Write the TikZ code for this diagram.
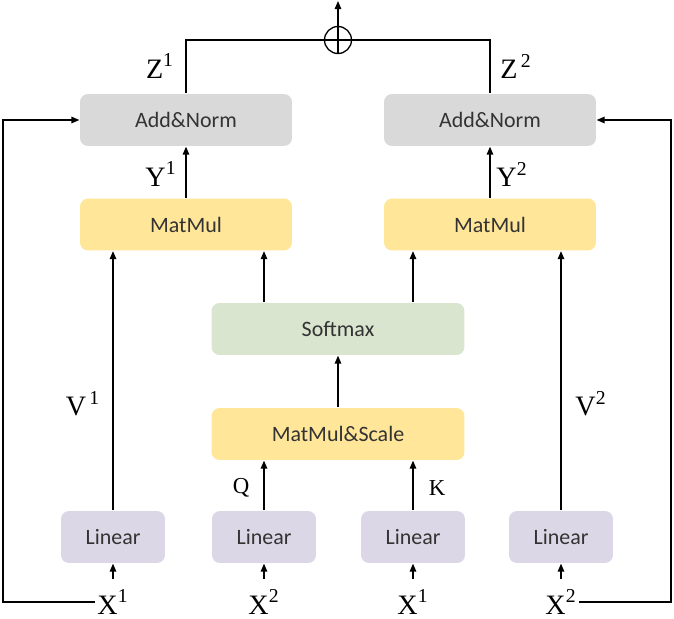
\documentclass[tikz,border=0pt]{standalone}
\usepackage{fontspec}
\setmainfont{Liberation Serif}
\newfontfamily\boxfont{Carlito}
\usetikzlibrary{arrows.meta}
\definecolor{normgray}{HTML}{D9D9D9}
\definecolor{mulyellow}{HTML}{FFE699}
\definecolor{softgreen}{HTML}{D9E5CE}
\definecolor{linpurple}{HTML}{DCD7E6}
\tikzset{
    blk/.style={rounded corners=0.16cm, inner sep=0pt, minimum height=1.04cm,
        font=\boxfont\fontsize{12.5}{14}\selectfont, text=black!80},
    wide/.style={blk, minimum width=4.24cm},
    mid/.style={blk, minimum width=5.06cm},
    small/.style={blk, minimum width=2.08cm},
    sym/.style={inner sep=1pt, font=\fontsize{16}{19}\selectfont},
    qk/.style={inner sep=1pt, font=\fontsize{13}{15}\selectfont},
    arr/.style={-{Triangle[length=1.6mm,width=1.3mm]}},
}
\begin{document}
\begin{tikzpicture}[x=0.02cm, y=-0.02cm, line width=0.75pt]
                \useasboundingbox (0,0) rectangle (674,619);
                \node[wide, fill=normgray] (anl) at (186,120) {Add\&Norm};
                \node[wide, fill=normgray] (anr) at (490,120) {Add\&Norm};
                \node[wide, fill=mulyellow] (mml) at (186,224.5) {MatMul};
                \node[wide, fill=mulyellow] (mmr) at (490,224.5) {MatMul};
                \node[mid, fill=softgreen] (soft) at (338,329) {Softmax};
                \node[mid, fill=mulyellow] (mms) at (338,434) {MatMul\&Scale};
                \node[small, fill=linpurple] (lin1) at (113,537) {Linear};
                \node[small, fill=linpurple] (lin2) at (264,537) {Linear};
                \node[small, fill=linpurple] (lin3) at (413,537) {Linear};
                \node[small, fill=linpurple] (lin4) at (561,537) {Linear};
                \node[sym, anchor=base] (x1) at (113,614) {X\textsuperscript{1}};
                \node[sym, anchor=base] (x2) at (264,614) {X\textsuperscript{2}};
                \node[sym, anchor=base] (x3) at (413,614) {X\textsuperscript{1}};
                \node[sym, anchor=base] (x4) at (561,614) {X\textsuperscript{2}};
                \node[circle, draw, minimum size=0.54cm, inner sep=0pt] (sum) at (338,40) {};
                \coordinate (out) at (338,1);
                \coordinate (lc) at (3,120);
                \coordinate (rc) at (671,120);
                \draw (sum.north) -- (sum.south);
                \draw (anl.north) |- (sum.west) -- (sum.east) -| (anr.north);
                \draw[arr] (sum.north) -- (out);
                \draw[arr] (mml.north) -- (anl.south);
                \draw[arr] (mmr.north) -- (anr.south);
                \draw[arr] (soft.north -| lin2) -- (mml.south -| lin2);
                \draw[arr] (soft.north -| lin3) -- (mmr.south -| lin3);
                \draw[arr] (mms.north) -- (soft.south);
                \draw[arr] (lin1.north) -- (mml.south -| lin1);
                \draw[arr] (lin4.north) -- (mmr.south -| lin4);
                \draw[arr] (lin2.north) -- (mms.south -| lin2);
                \draw[arr] (lin3.north) -- (mms.south -| lin3);
                \foreach \i in {1,2,3,4}
                    \draw[arr, shorten <=5pt] (x\i.north) -- (lin\i.south);
                \draw[arr] (x1.west) -| (lc) -- (anl.west);
                \draw[arr] (x4.east) -| (rc) -- (anr.east);
                \node[sym] (z1) at (160,66) {Z\textsuperscript{1}};
                \node[sym] (z2) at (516,66) {Z\textsuperscript{\,2}};
                \node[sym] (y1) at (161,174) {Y\textsuperscript{1}};
                \node[sym] (y2) at (512,174) {Y\textsuperscript{2}};
                \node[sym] (v1) at (83,404) {V\textsuperscript{\,1}};
                \node[sym] (v2) at (591,404) {V\textsuperscript{2}};
                \node[qk] (q) at (241,488) {Q};
                \node[qk] (k) at (437,488) {K};
            \end{tikzpicture}
\end{document}
